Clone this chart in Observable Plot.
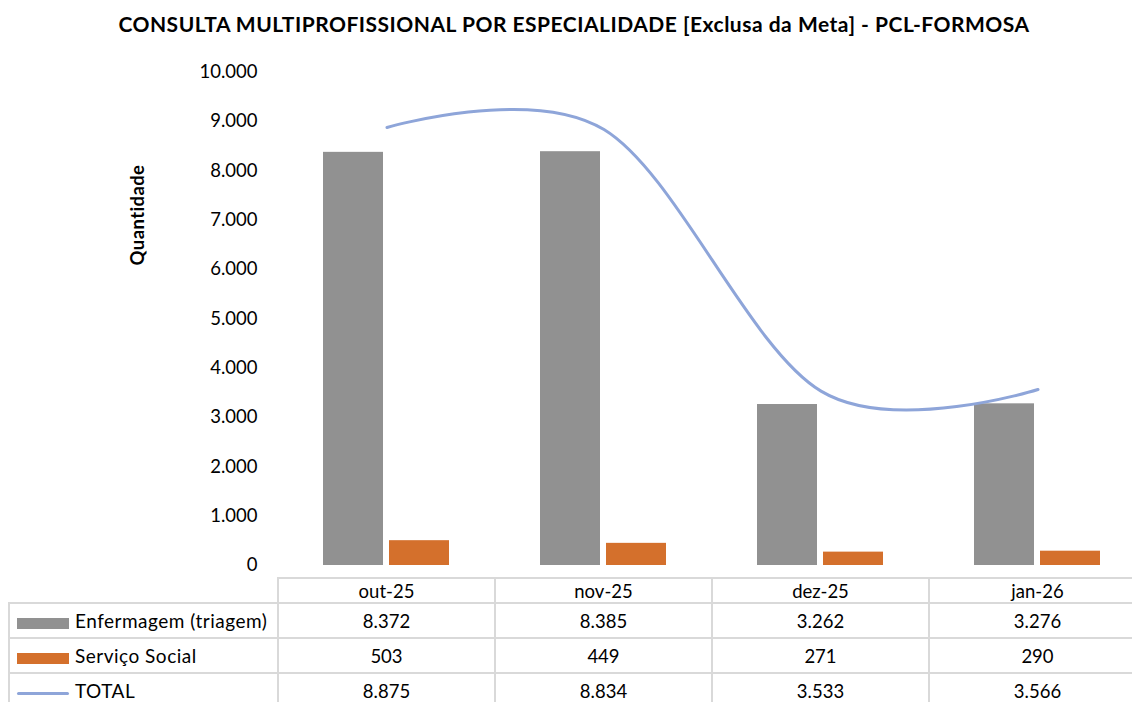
<!DOCTYPE html>
<html>
<head>
<meta charset="utf-8">
<script src="https://cdn.jsdelivr.net/npm/d3@7"></script>
<script src="https://cdn.jsdelivr.net/npm/@observablehq/plot@0.6"></script>
<style>
  html, body { margin: 0; padding: 0; background: #fff; overflow: hidden; }
  #wrap { position: relative; width: 1132px; height: 702px; font-family: Lato, "Liberation Sans", sans-serif; color: #000; }
  #title { height: 40px; line-height: 48px; text-align: center; padding-left: 16px; box-sizing: border-box; font-weight: bold; font-size: 21px; letter-spacing: 0.5px; white-space: nowrap; }
  #ylabel { position: absolute; left: 137px; top: 215px; transform: translate(-50%, -50%) rotate(-90deg); font-weight: bold; font-size: 18.5px; letter-spacing: 0.4px; white-space: nowrap; }
  #chart svg { display: block; }
  table { position: absolute; left: 8px; top: 577px; width: 1137px; border-collapse: collapse; table-layout: fixed; font-size: 18.5px; }
  td { border: 2px solid #d9d9d9; padding: 0; text-align: center; white-space: nowrap; overflow: hidden; }
  tr.head td { height: 23px; }
  tr.row td { height: 33px; }
  td.blank { border-top: none; border-left: none; }
  td.leg { text-align: left; font-size: 19px; letter-spacing: 0.5px; }
  .sw { display: inline-block; width: 52px; vertical-align: middle; margin: 0 6px 0 7px; }
</style>
</head>
<body>
<div id="wrap">
  <div id="title"></div>
  <div id="chart"></div>
  <div id="ylabel"></div>
  <div id="tbl"></div>
</div>
<script>
const titleText = "CONSULTA MULTIPROFISSIONAL POR ESPECIALIDADE [Exclusa da Meta] - PCL-FORMOSA";
const yLabel = "Quantidade";
const months = ["out-25", "nov-25", "dez-25", "jan-26"];
const seriesNames = ["Enfermagem (triagem)", "Serviço Social", "TOTAL"];
const enfermagem = [8372, 8385, 3262, 3276];
const servicoSocial = [503, 449, 271, 290];
const total = [8875, 8834, 3533, 3566];
const yTicks = [0, 1000, 2000, 3000, 4000, 5000, 6000, 7000, 8000, 9000, 10000];
const colors = ["#919191", "#d4702c", "#8ea5d9"];

const fmt = d3.formatLocale({decimal: ",", thousands: ".", grouping: [3], currency: ["R$", ""]}).format(",d");

const enfData = months.map((m, i) => ({month: m, value: enfermagem[i]}));
const socData = months.map((m, i) => ({month: m, value: servicoSocial[i]}));
const totData = months.map((m, i) => ({month: m, value: total[i]}));

document.getElementById("title").textContent = titleText;
document.getElementById("ylabel").textContent = yLabel;

const chart = Plot.plot({
  width: 1132,
  height: 535,
  marginTop: 31.5,
  marginBottom: 10,
  marginLeft: 278,
  marginRight: -14,
  style: {fontFamily: "Lato, sans-serif", fontSize: "18.5px", color: "#000", background: "transparent", overflow: "visible"},
  x: {domain: months, padding: 0, axis: null},
  y: {domain: [0, 10000], axis: null},
  marks: [
    Plot.axisY({ticks: yTicks, tickSize: 0, tickPadding: 21, tickFormat: fmt, label: null, fontSize: 18.5}),
    Plot.barY(enfData, {x: "month", y: "value", fill: colors[0], insetLeft: 45, insetRight: 112}),
    Plot.barY(socData, {x: "month", y: "value", fill: colors[1], insetLeft: 111, insetRight: 46}),
    Plot.line(totData, {x: "month", y: "value", stroke: colors[2], strokeWidth: 3, curve: "cardinal"})
  ]
});
document.getElementById("chart").appendChild(chart);

// data table
const table = document.createElement("table");
const cg = document.createElement("colgroup");
[269, 217, 217, 217, 217].forEach(w => { const c = document.createElement("col"); c.style.width = w + "px"; cg.appendChild(c); });
table.appendChild(cg);
const head = document.createElement("tr");
head.className = "head";
const blank = document.createElement("td"); blank.className = "blank"; head.appendChild(blank);
months.forEach(m => { const td = document.createElement("td"); td.textContent = m; head.appendChild(td); });
table.appendChild(head);
const seriesVals = [enfermagem, servicoSocial, total];
seriesNames.forEach((name, k) => {
  const tr = document.createElement("tr"); tr.className = "row";
  const leg = document.createElement("td"); leg.className = "leg";
  const sw = document.createElement("span"); sw.className = "sw";
  if (k < 2) { sw.style.height = "11px"; sw.style.background = colors[k]; }
  else { sw.style.height = "3px"; sw.style.background = colors[k]; sw.style.borderRadius = "2px"; }
  leg.appendChild(sw);
  leg.appendChild(document.createTextNode(name));
  tr.appendChild(leg);
  seriesVals[k].forEach(v => { const td = document.createElement("td"); td.textContent = fmt(v); tr.appendChild(td); });
  table.appendChild(tr);
});
document.getElementById("tbl").appendChild(table);
</script>
</body>
</html>
